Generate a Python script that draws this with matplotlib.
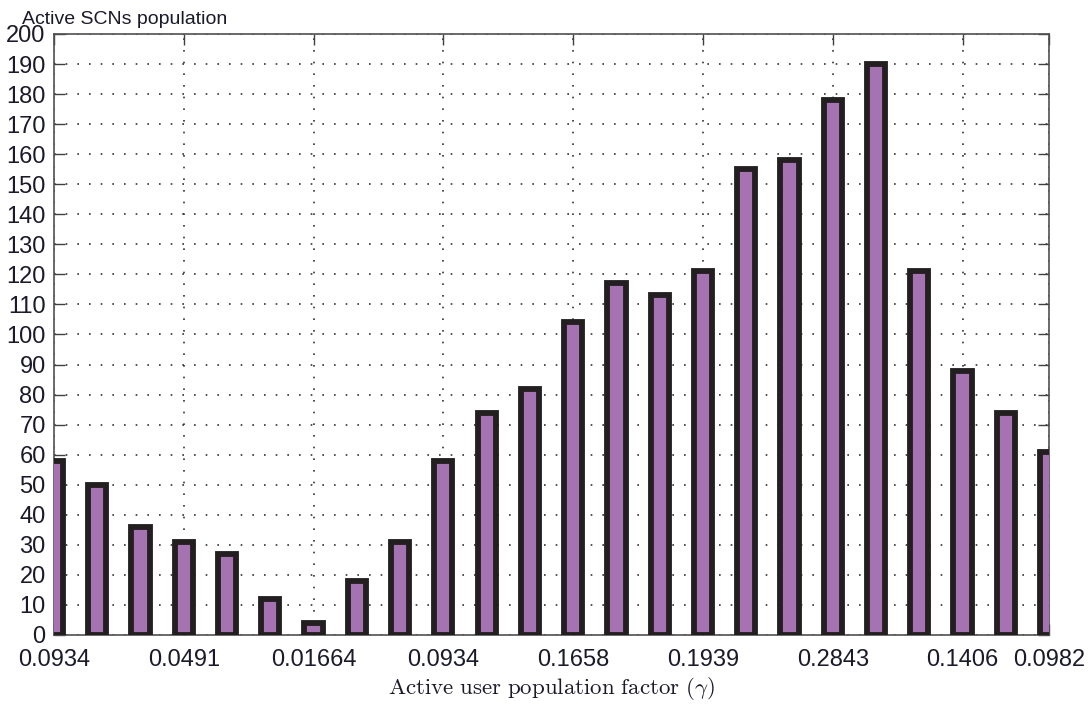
import numpy as np
import matplotlib
matplotlib.use('Agg')
import matplotlib.pyplot as plt

plt.rcParams['mathtext.fontset'] = 'cm'

# active SCN counts per sample
population = [58, 50, 36, 31, 27, 12, 4, 18, 31, 58, 74, 82,
              104, 117, 113, 121, 155, 158, 178, 190, 121, 88, 74, 61]
# labelled samples and their gamma values
tick_idx = [0, 3, 6, 9, 12, 15, 18, 21, 23]
tick_labels = ['0.0934', '0.0491', '0.01664', '0.0934', '0.1658',
               '0.1939', '0.2843', '0.1406', '0.0982']

fig = plt.figure(figsize=(10.89, 7.05), dpi=100)
ax = fig.add_axes([0.0496, 0.0993, 0.9137, 0.8525])

x = np.arange(len(population))
ax.bar(x, population, width=0.42, color='#a673b2', edgecolor='#231f20',
       linewidth=4.2, zorder=3)

ax.set_xlim(0, len(population) - 1)
ax.set_ylim(0, 200)
ax.set_yticks(np.arange(0, 201, 10))
ax.set_xticks(tick_idx)
ax.set_xticklabels(tick_labels)

for lbl in ax.get_xticklabels() + ax.get_yticklabels():
    lbl.set_fontfamily('Liberation Sans')
    lbl.set_fontsize(17)
    lbl.set_color('#1a1a2a')

ax.grid(True, linestyle=(0, (1, 6)), linewidth=1.2, color='#333333', zorder=1)
ax.tick_params(direction='in', top=True, right=True, length=8, width=1,
               color='#404040', pad=6)
ax.tick_params(axis='x', pad=10)
for s in ax.spines.values():
    s.set_color('#505050')
    s.set_linewidth(1.2)

ax.set_xlabel(r'$\mathrm{Active\ user\ population\ factor\ }(\gamma)$',
              fontsize=16.5, color='#1a1a2a', labelpad=3)
fig.text(0.02, 0.966, 'Active SCNs population', fontfamily='Liberation Sans',
         fontsize=14, color='#1a1a2a', va='baseline')

fig.savefig('out.png', dpi=100)
